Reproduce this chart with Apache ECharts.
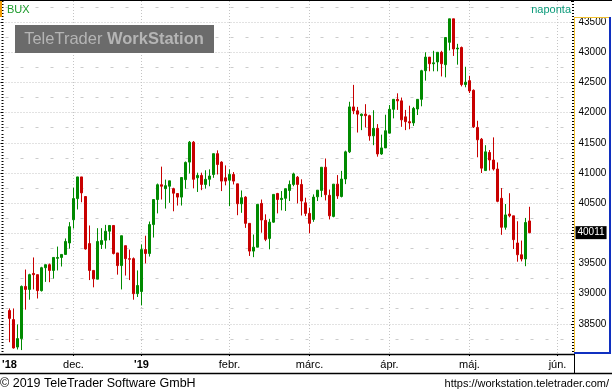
<!DOCTYPE html>
<html><head><meta charset="utf-8">
<script src="https://cdn.jsdelivr.net/npm/echarts@6/dist/echarts.min.js"></script>
<style>html,body{margin:0;padding:0;background:#fff}#c{width:612px;height:392px}</style>
</head><body><div id="c"></div>
<script>
// trading-day slots of the category axis (first slot and the June days are empty)
const monthDays = [
  ['2018-11', [8,9,12,13,14,15,16,19,20,21,22,23,26,27,28,29,30]],
  ['2018-12', [3,4,5,6,7,10,11,12,13,14,17,18,19,20,21,27,28]],
  ['2019-01', [2,3,4,7,8,9,10,11,14,15,16,17,18,21,22,23,24,25,28,29,30,31]],
  ['2019-02', [1,4,5,6,7,8,11,12,13,14,15,18,19,20,21,22,25,26,27,28]],
  ['2019-03', [1,4,5,6,7,8,11,12,13,14,18,19,20,21,22,25,26,27,28,29]],
  ['2019-04', [1,2,3,4,5,8,9,10,11,12,15,16,17,18,23,24,25,26,29,30]],
  ['2019-05', [2,3,6,7,8,9,10,13,14,15,16,17,20,21,22,23,24,27,28,29,30,31]],
  ['2019-06', [3,4,5,6,7]]
];
const firstDataDate = '2018-11-09';

const open = [38720,38570,38115,38255,39120,39070,39335,39315,39050,39430,39480,39385,39585,39600,39650,39840,40225,40575,40935,40610,
  39830,39385,39240,39815,39885,40035,40130,39675,39465,39795,39580,39580,39000,39035,39730,39665,40145,40560,40805,40740,
  40780,40740,40660,40600,40890,41180,41510,40920,40960,40810,40895,40975,41320,41180,40920,40880,40975,40820,40490,40600,
  40165,39705,39770,40495,40215,39915,40185,40660,40560,40580,40710,40810,40930,40810,40505,40330,40230,40605,40710,41095,
  40630,40280,40815,40610,40900,41350,42095,42030,41950,41975,41950,41615,41740,41315,41415,41660,42055,42220,42195,41930,
  41850,41830,42060,42220,42695,42920,42810,42840,43000,42795,43165,43555,43055,43080,42465,42530,42370,41755,41560,41040,
  41340,41215,41065,40580,40100,40320,40290,39840,39645,39575,40205];
const close = [38590,38100,38255,39120,39070,39315,39315,39050,39430,39480,39385,39600,39600,39650,39865,40110,40575,40935,40670,39740,
  39385,39245,39865,39880,40035,40130,39665,39465,39960,39580,39570,39000,39135,39730,39665,40145,40560,40805,40780,40790,
  40870,40665,40600,40925,41175,41510,40895,40960,40810,40895,40950,41320,41140,40865,40865,40975,40865,40490,40590,40165,
  39705,39770,40480,40220,39900,40185,40645,40560,40580,40740,40810,40985,40810,40535,40330,40165,40600,40715,41095,40640,
  40290,40815,40620,40900,41350,42095,42030,41975,41975,41950,41615,41740,41315,41415,41700,42055,42220,42195,41880,41850,
  41830,42070,42220,42695,42920,42810,42825,43000,42810,43245,43555,43055,43070,42465,42505,42360,41765,41550,41080,41350,
  41215,41065,40530,40100,40305,40290,39895,39645,39575,40180,40011];
const low = [38195,38090,38075,38065,38735,38900,39070,38920,39035,39195,39190,39250,39385,39450,39650,39745,40080,40395,40515,39730,
  39225,39105,39240,39740,39745,39885,39650,39315,39070,39300,39225,38900,38945,38805,39500,39615,39930,40330,40560,40410,
  40505,40365,40460,40460,40740,40990,40745,40685,40715,40740,40780,40920,40975,40700,40795,40450,40810,40300,40340,40090,
  39625,39605,39770,40010,39870,39735,40175,40330,40380,40370,40535,40780,40495,40295,40285,40000,40190,40535,40600,40545,
  40230,40265,40570,40595,40815,41330,41975,41670,41710,41755,41535,41460,41270,41300,41415,41660,41905,42045,41765,41710,
  41725,41780,41960,42105,42530,42685,42685,42685,42600,42585,43030,42940,42795,42435,42420,42325,41745,41260,41000,41040,
  41040,41040,40515,39975,40060,40265,39740,39530,39535,39455,40000];
const high = [38755,38755,38490,39135,39400,39330,39600,39315,39445,39480,39500,39600,39780,39650,39915,40185,40755,40935,40935,40610,
  40130,39385,40085,40085,40140,40130,40130,39675,39960,39795,39730,39600,39385,39815,39960,40195,40560,40825,41105,40890,
  40870,40755,40660,40925,41190,41530,41530,41005,41005,41045,41060,41320,41375,41195,41125,41060,41015,40820,40710,40615,
  40165,39980,40480,40560,40315,40240,40645,40670,40700,40740,40875,41005,40950,40895,40590,40425,40645,40715,41095,41240,
  40725,40815,40965,41035,41370,42180,42460,42095,41985,42140,41965,42040,41810,41635,41965,42125,42220,42320,42250,42045,
  42115,42095,42220,42710,43000,42920,43025,43000,43025,43245,43555,43555,43140,43095,42760,42610,42385,41865,41580,41460,
  41380,41590,41175,40750,40485,40665,40290,40200,39880,40255,40440];

const tickDates  = ['2018-11-09','2018-12-03','2019-01-02','2019-02-01','2019-03-01','2019-04-01','2019-05-02','2019-06-03'];
const tickLabels = ["'18","dec.","'19","febr.","márc.","ápr.","máj.","jún."];
const boldLabels = ["'18","'19"];
const gridDates  = ['2018-12-03','2019-01-02','2019-02-01','2019-03-01','2019-04-01','2019-05-02','2019-06-03'];

const yMin = 38000, yMax = 43850, yStep = 500;

const pad = n => (n < 10 ? '0' : '') + n;
const categories = [];
monthDays.forEach(([m, days]) => days.forEach(d => categories.push(m + '-' + pad(d))));
const start = categories.indexOf(firstDataDate);
const seriesData = categories.map((d, i) => {
  const k = i - start;
  return (k >= 0 && k < open.length) ? [open[k], close[k], low[k], high[k]] : ['-','-','-','-'];
});
const labelMap = {};
tickDates.forEach((d, j) => { labelMap[categories.indexOf(d)] = tickLabels[j]; });
const gridSet = new Set(gridDates.map(d => categories.indexOf(d)));
const lastClose = close[close.length - 1];

const FONT = 'Liberation Sans, Arial, sans-serif';
const chart = echarts.init(document.getElementById('c'), null, {renderer: 'canvas'});
chart.setOption({
  animation: false,
  backgroundColor: '#fff',
  grid: {left: 5.5, right: 38.5, top: 1, bottom: 38, containLabel: false, outerBoundsMode: 'none'},
  xAxis: {
    type: 'category', data: categories, boundaryGap: false,
    axisLine: {show: false},
    axisTick: {show: true, interval: (i) => gridSet.has(i), length: 2, lineStyle: {color: '#000'}},
    axisLabel: {
      show: true, interval: (i) => labelMap[i] !== undefined, margin: 5,
      color: '#000', fontSize: 11, fontFamily: FONT,
      formatter: (v, i) => { const t = labelMap[i]; if (t === undefined) return ''; return boldLabels.includes(t) ? '{b|' + t + '}' : t; },
      rich: {b: {fontWeight: 'bold', fontSize: 11, fontFamily: FONT, color: '#000'}}
    },
    splitLine: {show: true, interval: (i) => gridSet.has(i), lineStyle: {color: '#c4c4c4', type: [1, 2], width: 1}}
  },
  yAxis: [
    {
      type: 'value', position: 'right', offset: 0.5, min: yMin, max: yMax, interval: yStep,
      axisLine: {show: false},
      axisTick: {show: true, inside: true, length: 3, lineStyle: {color: '#000'}},
      minorTick: {show: true, splitNumber: 10, length: 2, lineStyle: {color: '#000'}},
      axisLabel: {show: true, margin: 4.5, color: '#000', fontSize: 10, fontFamily: FONT, showMinLabel: false, showMaxLabel: false,
                  formatter: (v) => String(v)},
      splitLine: {show: true, showMinLine: false, showMaxLine: false, lineStyle: {color: '#c4c4c4', type: [1, 2], width: 1}}
    },
    {
      type: 'value', position: 'right', min: yMin, max: yMax, interval: yStep / 2,
      axisLine: {show: false}, axisTick: {show: false}, axisLabel: {show: false},
      splitLine: {show: true, lineStyle: {color: ['rgba(0,0,0,0)', '#cccccc'], type: [3, 12], width: 1}}
    },
    {
      type: 'value', position: 'left', offset: 2, min: yMin, max: yMax, interval: yStep,
      axisLine: {show: false},
      axisTick: {show: true, inside: false, length: 3, lineStyle: {color: '#000'}},
      minorTick: {show: true, splitNumber: 10, length: 2, lineStyle: {color: '#000'}},
      axisLabel: {show: false}, splitLine: {show: false}
    }
  ],
  series: [{
    type: 'candlestick', yAxisIndex: 0, data: seriesData, barWidth: 2,
    itemStyle: {color: '#008a00', color0: '#c80000', borderColor: '#008a00', borderColor0: '#c80000', borderWidth: 1},
    markLine: {
      silent: true, symbol: ['none', 'none'], animation: false,
      lineStyle: {color: 'rgba(0,0,0,0)', width: 1},
      label: {show: true, position: 'end', distance: 2, formatter: String(lastClose), color: '#fff', backgroundColor: '#000',
              padding: [2, 2, 1, 2], fontSize: 10, fontFamily: FONT},
      data: [{yAxis: lastClose}]
    }
  }],
  graphic: [
    {type: 'line', z: 100, shape: {x1: 0, y1: 0.5, x2: 612, y2: 0.5}, style: {stroke: '#000', lineWidth: 1}},
    {type: 'rect', z: 100, shape: {x: 0, y: 1, width: 2, height: 16}, style: {fill: '#f39c00'}},
    {type: 'text', z: 100, style: {text: 'BUX', x: 7, y: 9.5, fill: '#1a9a2a', fontSize: 11, fontFamily: FONT, verticalAlign: 'middle'}},
    {type: 'text', z: 100, style: {text: 'naponta', x: 571, y: 9.5, fill: '#0a9a7a', fontSize: 11, fontFamily: FONT, align: 'right', verticalAlign: 'middle'}},
    {type: 'rect', z: 100, shape: {x: 15, y: 25, width: 199, height: 28}, style: {fill: '#6b6b6b'}},
    {type: 'text', z: 101, style: {text: '{a|TeleTrader }{b|WorkStation}', x: 114, y: 39.5, align: 'center', verticalAlign: 'middle',
      rich: {a: {fill: '#b5b5b5', fontSize: 16.5, fontFamily: FONT}, b: {fill: '#b5b5b5', fontSize: 16.5, fontFamily: FONT, fontWeight: 'bold'}}}},
    // right value panel frame
    {type: 'line', z: 100, shape: {x1: 574.5, y1: 17, x2: 574.5, y2: 354}, style: {stroke: '#f2c12e', lineWidth: 1}},
    {type: 'line', z: 100, shape: {x1: 574, y1: 17.5, x2: 610, y2: 17.5}, style: {stroke: '#f2c12e', lineWidth: 1}},
    {type: 'line', z: 100, shape: {x1: 610, y1: 17, x2: 610, y2: 354}, style: {stroke: '#1030c0', lineWidth: 2}},
    {type: 'line', z: 100, shape: {x1: 574, y1: 353, x2: 611, y2: 353}, style: {stroke: '#1030c0', lineWidth: 2}},
    // axis band frame
    {type: 'line', z: 100, shape: {x1: 0, y1: 354.5, x2: 574, y2: 354.5}, style: {stroke: '#000', lineWidth: 1.5}},
    {type: 'line', z: 100, shape: {x1: 0, y1: 373.5, x2: 612, y2: 373.5}, style: {stroke: '#000', lineWidth: 1.5}},
    {type: 'line', z: 100, shape: {x1: 574.5, y1: 354, x2: 574.5, y2: 374}, style: {stroke: '#000', lineWidth: 1}},
    // footer
    {type: 'text', z: 100, style: {text: '© 2019 TeleTrader Software GmbH', x: 0, y: 383.5, fill: '#000', fontSize: 12.5, fontFamily: FONT, verticalAlign: 'middle'}},
    {type: 'text', z: 100, style: {text: 'https://workstation.teletrader.com/', x: 609, y: 383.5, fill: '#000', fontSize: 11, fontFamily: FONT, align: 'right', verticalAlign: 'middle'}}
  ]
});
</script></body></html>
